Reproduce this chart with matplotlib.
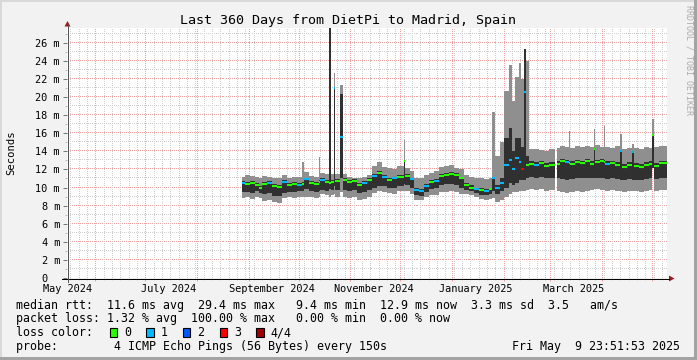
import numpy as np
import pandas as pd
import matplotlib
matplotlib.use("Agg")
import matplotlib.pyplot as plt
import matplotlib.dates as mdates
from matplotlib.patches import Rectangle, Polygon

plt.rcParams['font.family'] = ['DejaVu Sans Mono']

# time window of the graph
t_start = pd.Timestamp('2024-05-14 23:51:53')
t_end = pd.Timestamp('2025-05-09 23:51:53')

# consolidated ping data (values in ms), one row per bin start
bin_start = ['2024-08-28', '2024-08-30', '2024-09-02', '2024-09-05', '2024-09-07',
             '2024-09-09', '2024-09-12', '2024-09-15', '2024-09-18', '2024-09-21',
             '2024-09-24', '2024-09-27', '2024-09-30', '2024-10-03', '2024-10-04',
             '2024-10-07', '2024-10-10', '2024-10-13', '2024-10-14', '2024-10-17',
             '2024-10-19', '2024-10-20 12:00', '2024-10-22', '2024-10-23', '2024-10-26',
             '2024-10-27 12:00', '2024-10-30', '2024-11-02', '2024-11-05', '2024-11-08',
             '2024-11-11', '2024-11-14', '2024-11-17', '2024-11-20', '2024-11-23',
             '2024-11-26', '2024-11-29', '2024-12-03', '2024-12-04', '2024-12-07',
             '2024-12-09', '2024-12-12', '2024-12-15', '2024-12-18', '2024-12-21',
             '2024-12-24', '2024-12-27', '2024-12-30', '2025-01-02', '2025-01-05',
             '2025-01-08', '2025-01-11', '2025-01-14', '2025-01-17', '2025-01-20',
             '2025-01-23', '2025-01-25', '2025-01-26 12:00', '2025-01-30', '2025-02-01',
             '2025-02-04', '2025-02-06', '2025-02-08', '2025-02-10', '2025-02-11 12:00',
             '2025-02-13', '2025-02-14 12:00', '2025-02-16', '2025-02-19', '2025-02-22',
             '2025-02-25', '2025-02-28', '2025-03-04', '2025-03-04 18:00', '2025-03-07',
             '2025-03-10', '2025-03-12', '2025-03-13', '2025-03-16', '2025-03-19',
             '2025-03-22', '2025-03-25', '2025-03-27', '2025-03-28', '2025-03-31',
             '2025-04-02', '2025-04-03', '2025-04-06', '2025-04-09', '2025-04-12',
             '2025-04-13', '2025-04-16', '2025-04-19', '2025-04-20', '2025-04-23',
             '2025-04-26', '2025-04-29', '2025-05-01', '2025-05-02', '2025-05-05']

rtt_min = [8.8, 8.9, 8.7, 8.9, 8.8, 8.5, 8.6, 8.4, 8.3, 8.8,
           8.9, 8.8, 8.9, 8.9, 9.0, 8.9, 8.8, 9.0, 9.3, 9.2,
           9.0, 9.2, 9.3, 9.0, 9.5, 9.0, 8.8, 8.9, 8.6, 8.7,
           8.9, 9.4, 9.6, 9.5, 9.4, 9.3, 9.6, 9.6, 9.6, 9.3,
           8.6, 8.6, 8.9, 9.2, 9.2, 9.5, 9.5, 9.6, 9.5, 9.3,
           9.3, 9.2, 9.0, 8.7, 8.6, 8.7, 8.8, 8.4, 8.6, 9.0,
           9.3, 9.5, 9.5, 9.6, 9.6, 9.6, 9.7, 9.8, 9.7, 9.8,
           9.6, 9.7, None, 9.6, 9.5, 9.4, 9.5, 9.5, 9.6, 9.5,
           9.6, 9.7, 9.8, 9.8, 9.7, 9.7, 9.6, 9.7, 9.6, 9.6,
           9.5, 9.6, 9.6, 9.6, 9.5, 9.6, 9.7, 12.2, 9.6, 9.7]

rtt_q1 = [9.5, 9.5, 9.4, 9.6, 9.4, 9.3, 9.4, 9.1, 9.1, 9.4,
          9.5, 9.5, 9.6, 9.6, 9.8, 9.6, 9.5, 9.6, 9.7, 9.6,
          9.8, 9.7, 10.2, 9.7, 11.0, 9.7, 9.6, 9.7, 9.4, 9.5,
          9.7, 10.0, 10.2, 10.2, 9.9, 9.9, 10.2, 10.4, 10.3, 10.0,
          9.2, 9.1, 9.5, 9.8, 9.9, 10.3, 10.4, 10.4, 10.3, 10.0,
          9.7, 9.6, 9.4, 9.2, 9.2, 9.3, 9.6, 9.3, 9.6, 10.0,
          10.5, 10.3, 10.5, 10.8, 10.8, 10.8, 11.0, 11.2, 11.1, 11.2,
          11.0, 11.1, None, 11.0, 10.9, 10.8, 10.9, 10.9, 11.0, 11.0,
          11.1, 11.0, 11.0, 11.1, 11.0, 11.0, 10.9, 11.0, 10.9, 10.8,
          10.8, 10.9, 10.8, 10.8, 10.8, 10.9, 11.0, 12.2, 10.9, 11.0]

rtt_median = [10.5, 10.4, 10.5, 10.3, 9.9, 10.4, 10.5, 10.2, 10.1, 10.6,
              10.3, 10.4, 10.3, 10.4, 10.9, 10.5, 10.4, 10.6, 10.8, 10.6,
              10.5, 10.6, 21.0, 10.7, 15.6, 10.8, 10.6, 10.7, 10.3, 10.5,
              10.8, 11.3, 11.6, 11.2, 10.8, 11.0, 11.2, 12.9, 11.3, 10.9,
              9.7, 9.6, 10.2, 10.6, 10.7, 11.3, 11.4, 11.5, 11.4, 11.0,
              10.3, 10.0, 9.8, 9.7, 9.6, 9.8, 11.0, 10.0, 10.5, 12.5,
              13.0, 12.0, 13.3, 12.8, 12.1, 20.5, 12.5, 12.6, 12.5, 12.7,
              12.4, 12.5, None, 12.6, 12.9, 12.8, 12.7, 12.6, 12.8, 12.7,
              12.9, 12.6, 14.3, 12.8, 12.9, 12.8, 12.6, 12.7, 12.5, 14.0,
              12.3, 12.5, 13.9, 12.4, 12.3, 12.5, 12.6, 15.8, 12.4, 12.7]

rtt_q3 = [10.7, 10.6, 10.7, 10.5, 10.2, 10.6, 10.7, 10.4, 10.3, 10.8,
          10.5, 10.6, 10.5, 10.6, 11.1, 10.7, 10.6, 10.8, 11.0, 10.8,
          29.0, 10.8, 21.0, 10.9, 20.3, 11.0, 10.8, 10.9, 10.5, 10.7,
          11.0, 11.5, 11.8, 11.4, 11.0, 11.2, 11.4, 12.9, 11.5, 11.1,
          9.9, 9.8, 10.4, 10.8, 10.9, 11.5, 11.6, 11.7, 11.6, 11.2,
          10.5, 10.3, 10.0, 9.9, 9.8, 10.0, 11.0, 10.3, 11.0, 15.5,
          16.6, 14.0, 15.5, 15.5, 14.5, 25.3, 13.5, 12.9, 12.8, 12.9,
          12.7, 12.8, None, 12.9, 13.1, 13.0, 12.9, 12.9, 13.0, 12.9,
          13.1, 12.9, 14.3, 13.0, 13.1, 13.0, 12.9, 12.9, 12.8, 14.0,
          12.6, 12.8, 13.9, 12.7, 12.6, 12.8, 12.9, 15.8, 12.7, 12.9]

rtt_max = [11.2, 11.4, 11.3, 11.2, 11.0, 11.3, 11.2, 11.0, 11.1, 11.4,
           11.1, 11.2, 11.2, 12.8, 11.7, 11.3, 11.2, 13.4, 11.6, 11.5,
           29.0, 11.5, 22.7, 11.5, 21.3, 11.5, 11.2, 11.1, 11.0, 11.2,
           11.4, 12.4, 12.8, 12.3, 12.2, 12.0, 12.4, 15.3, 12.2, 11.8,
           11.1, 11.0, 11.4, 11.6, 11.8, 12.3, 12.4, 12.5, 12.2, 12.0,
           11.4, 11.2, 11.0, 11.1, 10.9, 11.0, 18.3, 13.5, 15.0, 20.7,
           23.5, 19.6, 22.2, 23.8, 22.0, 25.3, 24.0, 14.2, 14.3, 14.1,
           14.0, 14.2, None, 14.4, 14.6, 14.5, 16.2, 14.4, 14.6, 14.5,
           14.6, 14.5, 16.5, 14.7, 14.5, 16.8, 14.5, 14.4, 14.6, 15.9,
           14.3, 14.4, 14.8, 14.4, 14.3, 14.5, 14.4, 17.6, 14.5, 14.6]

# lost pings (out of 4) per bin, selects the median colour
loss = [1, 0, 0, 0, 0, 0, 1, 0, 0, 1,
        0, 0, 1, 0, 1, 0, 0, 0, 1, 0,
        0, 0, 1, 0, 1, 0, 0, 0, 0, 1,
        0, 1, 0, 1, 0, 1, 0, 0, 0, 1,
        1, 1, 1, 0, 1, 0, 0, 0, 0, 0,
        0, 0, 1, 0, 1, 0, 1, 1, 1, 1,
        1, 1, 1, 1, 3, 1, 0, 0, 1, 0,
        0, 0, 0, 0, 0, 1, 0, 0, 0, 0,
        0, 0, 0, 0, 0, 0, 1, 0, 0, 1,
        0, 0, 1, 0, 0, 0, 0, 0, 0, 0]

loss_colors = ['#26ff00', '#00b8ff', '#0059ff', '#ff0000', '#a00000']
loss_names = ['0', '1', '2', '3', '4/4']

y_ticks = [0, 2, 4, 6, 8, 10, 12, 14, 16, 18, 20, 22, 24, 26]
month_labels = ['May 2024', 'July 2024', 'September 2024', 'November 2024',
                'January 2025', 'March 2025']
month_label_at = ['2024-05-15', '2024-07-15', '2024-09-15', '2024-11-15',
                  '2025-01-15', '2025-03-15']

legend_rows = [
    'median rtt:  11.6 ms avg  29.4 ms max   9.4 ms min  12.9 ms now  3.3 ms sd  3.5   am/s',
    'packet loss: 1.32 % avg  100.00 % max   0.00 % min  0.00 % now',
    'loss color:',
    'probe:        4 ICMP Echo Pings (56 Bytes) every 150s',
]

# ---- figure ----
W, H = 697, 360
PW, PH = 600, 250.4
fig = plt.figure(figsize=(W / 100, H / 100), dpi=100, facecolor='#f2f2f2')
ax = fig.add_axes([67 / W, 82 / H, PW / W, PH / H])
ax.set_facecolor('white')

left = mdates.date2num(pd.to_datetime(bin_start, format='ISO8601').to_numpy())
right = np.append(left[1:], mdates.date2num(t_end.to_datetime64()))
width = right - left
lo = np.array(rtt_min, dtype=float)
q1 = np.array(rtt_q1, dtype=float)
med = np.array(rtt_median, dtype=float)
q3 = np.array(rtt_q3, dtype=float)
hi = np.array(rtt_max, dtype=float)
ok = ~np.isnan(lo)
loss = np.array(loss)

ax.bar(left[ok], (hi - lo)[ok], width=width[ok], bottom=lo[ok], align='edge',
       color='#8f8f8f', linewidth=0, antialiased=False, zorder=1)
ax.bar(left[ok], (q3 - q1)[ok], width=width[ok], bottom=q1[ok], align='edge',
       color='#303030', linewidth=0, antialiased=False, zorder=1.1)
ax.hlines(med[ok], left[ok], right[ok], colors=[loss_colors[k] for k in loss[ok]],
          linewidth=1.5, zorder=2)

x0num = mdates.date2num(t_start.to_datetime64())
x1num = mdates.date2num(t_end.to_datetime64())
ax.set_xlim(x0num, x1num)
ax.set_ylim(0, 27.67)

# grid positions: monthly major lines, 5-day minor lines, 1 m / 2 m rows
month_starts = mdates.date2num(pd.date_range('2024-06-01', '2025-05-01', freq='MS').to_numpy())
days = pd.date_range('2024-05-15', '2025-05-09', freq='D')
five_days = mdates.date2num(days[((days - pd.Timestamp('1970-01-01')).days % 5) == 0].to_numpy())
minor_rows = np.arange(1, 28, 1)

# dotted grid: one pixel on, one pixel off
dots_x = np.arange(0.5, PW, 2) / PW
dots_y = np.arange(0.5, PH, 2) / PH
gray_dot, pink_dot = '#cfcfcf', '#f0a0a0'
for v in minor_rows:
    c = pink_dot if v % 2 == 0 else gray_dot
    ax.plot(dots_x, np.full_like(dots_x, v), ls='none', marker=',', color=c,
            transform=ax.get_yaxis_transform(), zorder=0.5)
for xv in five_days:
    if not np.any(np.isclose(xv, month_starts)):
        ax.plot(np.full_like(dots_y, xv), dots_y, ls='none', marker=',', color=gray_dot,
                transform=ax.get_xaxis_transform(), zorder=0.5)
for xv in month_starts:
    ax.plot(np.full_like(dots_y, xv), dots_y, ls='none', marker=',', color=pink_dot,
            transform=ax.get_xaxis_transform(), zorder=0.6)

ax.set_xticks(month_starts)
ax.set_xticks(five_days, minor=True)
ax.set_xticklabels([])
ax.set_yticks(y_ticks)
ax.set_yticks(range(1, 28, 2), minor=True)
ax.set_yticklabels(['0  '] + ['%d m' % v for v in y_ticks[1:]])

ax.tick_params(axis='x', which='major', length=2.2, width=0.72, color='#f0a0a0', labelbottom=False)
ax.tick_params(axis='x', which='minor', length=1.4, width=0.72, color='#cfcfcf')
ax.tick_params(axis='y', which='major', length=2.9, width=0.72, color='#777777',
               labelsize=7.4, pad=2.2)
ax.tick_params(axis='y', which='minor', length=1.4, width=0.72, color='#bbbbbb')
for s in ax.spines.values():
    s.set_visible(False)

for lab, d in zip(month_labels, month_label_at):
    ax.annotate(lab, xy=(mdates.date2num(pd.Timestamp(d).to_datetime64()), 0),
                xycoords=('data', 'axes fraction'), xytext=(0, -13.5 * 0.72),
                textcoords='offset points', ha='center', va='baseline', fontsize=7.4)

# ---- overlay in pixel coordinates: frame, axes arrows, texts, legend ----
ov = fig.add_axes([0, 0, 1, 1], zorder=10)
ov.set_xlim(0, W)
ov.set_ylim(H, 0)
ov.set_axis_off()

ov.add_patch(Rectangle((0, 0), W, 2, color='#d9d9d9', lw=0))
ov.add_patch(Rectangle((0, 0), 2, H, color='#d9d9d9', lw=0))
ov.add_patch(Rectangle((0, H - 3), W, 3, color='#a3a3a3', lw=0))
ov.add_patch(Rectangle((W - 3.5, 0), 3.5, H, color='#a3a3a3', lw=0))

ov.plot([62, 669], [278.5, 278.5], color='#000000', lw=0.72, antialiased=False)
ov.plot([67.5, 67.5], [281.5, 25], color='#555555', lw=0.72, antialiased=False)
ov.add_patch(Polygon([(64.5, 26.5), (70.5, 26.5), (67.5, 21)], closed=True, color='#9b1c1c', lw=0))
ov.add_patch(Polygon([(669, 275.5), (669, 281.5), (674.5, 278.5)], closed=True, color='#9b1c1c', lw=0))

ov.text(348.5, 24, 'Last 360 Days from DietPi to Madrid, Spain', ha='center',
        va='baseline', fontsize=9.6)
ov.text(11, 152.8, 'Seconds', rotation=90, ha='center', va='center', fontsize=7.6)
ov.text(688.5, 5, 'RRDTOOL / TOBI OETIKER', rotation=-90, ha='center', va='top',
        fontsize=6, color='#ababab')

baselines = [308.5, 322.3, 336.0, 349.8]
for txt, yb in zip(legend_rows, baselines):
    ov.text(16, yb, txt, ha='left', va='baseline', fontsize=8.4)
for i, (c, n) in enumerate(zip(loss_colors, loss_names)):
    bx = 109.5 + 36.7 * i
    ov.add_patch(Rectangle((bx, 328), 7.5, 8.5, facecolor=c, edgecolor='black', lw=0.8))
    ov.text(bx + 14.5, 336.0, n, ha='left', va='baseline', fontsize=8.4)
ov.text(680, 349.8, 'Fri May  9 23:51:53 2025', ha='right', va='baseline', fontsize=8.4)

fig.savefig('out.png', dpi=100, facecolor=fig.get_facecolor())
